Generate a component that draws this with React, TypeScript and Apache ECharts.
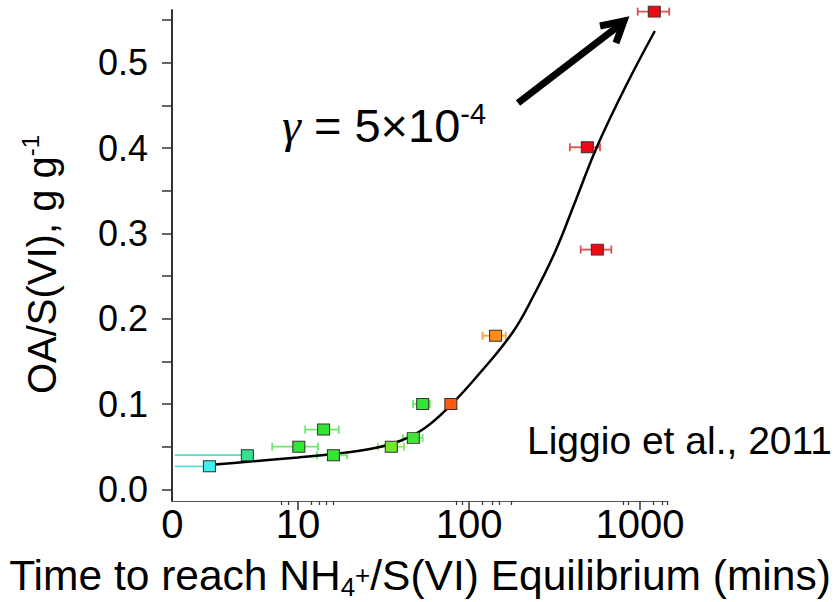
import React, { useEffect, useRef } from "react";
import * as echarts from "echarts";

// ---- data ----
const timeValues = [3.03, 5.05, 10.1, 14.1, 16.1, 35.1, 47.2, 53.6, 78.3, 143, 492, 563, 1213];
const ratioValues = [0.027, 0.040, 0.050, 0.070, 0.040, 0.050, 0.060, 0.100, 0.100, 0.180, 0.401, 0.281, 0.560];
const errLow = [1.9, 1.9, 7.05, 11.0, 12.9, 29.3, 41.0, 47.0, null, 120, 389, 450, 970];
const errHigh = [3.03, 5.05, 13.1, 17.3, 19.3, 41.7, 53.5, 59.0, null, 164, 584, 680, 1483];
const errCapped = [false, false, true, true, true, true, true, true, false, true, true, true, true];

const curveTime = [3.01, 5.23, 9.98, 16.0, 26.3, 39.4, 55.2, 78.3, 115.8, 180.6, 236.4, 322.3, 421.8, 559.7, 827, 1222];
const curveRatio = [0.0285, 0.0326, 0.0373, 0.0414, 0.0472, 0.0566, 0.0719, 0.0988, 0.1363, 0.1844, 0.2254, 0.2805, 0.3392, 0.4013, 0.4728, 0.5373];

const xMin = 1.83;
const xMax = 1459;
const xLabelValues = [1.84, 10, 100, 1000];
const xMajorTicks = [10, 100, 1000];
const xMinorTicks = [8, 8.75, 12, 13.3, 14.6, 16, 84, 91, 120, 136, 150, 177, 800, 850, 1190, 1345, 1440];

const yMin = -0.0137;
const yMax = 0.5619;
const yLabelValues = [0, 0.1, 0.2, 0.3, 0.4, 0.5];
const yTickValues = [0, 0.05, 0.1, 0.15, 0.2, 0.25, 0.3, 0.35, 0.4, 0.45, 0.5, 0.55];

const pointColors = ["#3ef0f0", "#33e08f", "#33e633", "#33e633", "#33e633", "#70ea2a", "#40e63a", "#33e633", "#ff5a14", "#ff8c14", "#ee0a14", "#ee0a14", "#ee0a14"];
const errColors = ["#55e2d6", "#55e2c0", "#70e870", "#70e870", "#70e870", "#90e860", "#70e870", "#70e870", "#000000", "#ffa040", "#e05050", "#e05050", "#e05050"];

const SANS = "'Liberation Sans', Arial, sans-serif";

export default function App() {
  const ref = useRef<HTMLDivElement>(null);
  useEffect(() => {
    document.body.style.margin = "0";
    const chart = echarts.init(ref.current!, undefined, { renderer: "svg" });

    const scatterData = timeValues.map((t, i) => ({
      value: [t, ratioValues[i]],
      itemStyle: { color: pointColors[i] },
    }));
    const errData = timeValues
      .map((t, i) => [errLow[i], errHigh[i], ratioValues[i], i])
      .filter((d) => d[0] != null);
    const curveData = curveTime.map((t, i) => [t, curveRatio[i]]);

    const option: any = {
      animation: false,
      backgroundColor: "#ffffff",
      grid: { left: 172, right: 171, top: 10, bottom: 101, containLabel: false, outerBoundsMode: "none" },
      xAxis: [
        {
          type: "log",
          min: xMin,
          max: xMax,
          position: "bottom",
          name: "Time to reach NH{sub|4}{sup|+}/S(VI) Equilibrium (mins)",
          nameLocation: "middle",
          nameGap: 40,
          nameTextStyle: {
            fontFamily: SANS,
            fontSize: 42.5,
            color: "#000",
            lineHeight: 54,
            rich: {
              sub: { fontFamily: SANS, fontSize: 26, color: "#000", verticalAlign: "bottom", lineHeight: 54, padding: [0, 0, 3, 0] },
              sup: { fontFamily: SANS, fontSize: 26, color: "#000", verticalAlign: "top", lineHeight: 54, padding: [13, 0, 0, 0] },
            },
          },
          axisLine: { show: true, onZero: false, lineStyle: { color: "#555", width: 1 } },
          axisTick: { show: true, customValues: xMajorTicks, length: 9, lineStyle: { color: "#333", width: 1.5 } },
          axisLabel: {
            customValues: xLabelValues,
            margin: 3,
            fontFamily: "'Liberation Sans Narrow', 'Liberation Sans', Arial, sans-serif",
            fontSize: 40,
            color: "#000",
            formatter: (v: number) => (v < 5 ? "0" : String(Math.round(v))),
          },
          splitLine: { show: false },
          minorSplitLine: { show: false },
        },
        {
          type: "log",
          min: xMin,
          max: xMax,
          position: "bottom",
          offset: 0,
          axisLine: { show: false, onZero: false },
          axisTick: { show: true, customValues: xMinorTicks, length: 4, lineStyle: { color: "#333", width: 1.2 } },
          axisLabel: { show: false },
          splitLine: { show: false },
        },
      ],
      yAxis: {
        type: "value",
        min: yMin,
        max: yMax,
        name: "OA/S(VI), g g{sup|-1}",
        nameLocation: "middle",
        nameRotate: 90,
        nameGap: 106,
        nameTextStyle: {
          fontFamily: SANS,
          fontSize: 40,
          color: "#000",
          lineHeight: 48,
          padding: [0, 18, 0, 0],
          rich: {
            sup: { fontFamily: SANS, fontSize: 24, color: "#000", verticalAlign: "top", lineHeight: 48 },
          },
        },
        axisLine: { show: true, onZero: false, lineStyle: { color: "#333", width: 2 } },
        axisTick: { show: true, customValues: yTickValues, length: 10, lineStyle: { color: "#333", width: 1.5 } },
        axisLabel: {
          customValues: yLabelValues,
          margin: 24,
          fontFamily: SANS,
          fontSize: 36,
          color: "#000",
          formatter: (v: number) => v.toFixed(1),
        },
        splitLine: { show: false },
      },
      series: [
        {
          type: "custom",
          xAxisIndex: 0,
          yAxisIndex: 0,
          clip: false,
          data: errData,
          encode: { x: [0, 1], y: 2 },
          renderItem: (params: any, api: any) => {
            const idx = api.value(3);
            const lo = api.coord([api.value(0), api.value(2)]);
            const hi = api.coord([api.value(1), api.value(2)]);
            const color = errColors[idx];
            const style = { stroke: color, lineWidth: 1.8 };
            const children: any[] = [
              { type: "line", shape: { x1: lo[0], y1: lo[1], x2: hi[0], y2: hi[1] }, style },
            ];
            if (errCapped[idx]) {
              children.push({ type: "line", shape: { x1: lo[0], y1: lo[1] - 4, x2: lo[0], y2: lo[1] + 4 }, style });
              children.push({ type: "line", shape: { x1: hi[0], y1: hi[1] - 4, x2: hi[0], y2: hi[1] + 4 }, style });
            }
            return { type: "group", children };
          },
          z: 2,
        },
        {
          type: "line",
          xAxisIndex: 0,
          data: curveData,
          smooth: 0.4,
          symbol: "none",
          clip: false,
          lineStyle: { color: "#000", width: 2.5 },
          z: 3,
        },
        {
          type: "scatter",
          xAxisIndex: 0,
          data: scatterData,
          symbol: "rect",
          symbolSize: [12, 11],
          clip: false,
          itemStyle: { borderColor: "#333", borderWidth: 1, opacity: 1 },
          z: 4,
        },
      ],
      graphic: [
        {
          type: "line",
          shape: { x1: 518, y1: 103, x2: 621, y2: 24 },
          style: { stroke: "#000", lineWidth: 7 },
        },
        {
          type: "polyline",
          shape: { points: [[600, 26], [624, 21], [616, 43]] },
          style: { stroke: "#000", lineWidth: 7, fill: null, lineJoin: "miter" },
        },
        {
          type: "text",
          x: 282,
          y: 99,
          style: {
            text: "{g|γ}{t| = 5×10}{s|-4}",
            rich: {
              g: { fontFamily: "'Liberation Serif', 'Times New Roman', serif", fontStyle: "italic", fontSize: 48, fill: "#000", lineHeight: 52 },
              t: { fontFamily: SANS, fontSize: 47, fill: "#000", lineHeight: 52 },
              s: { fontFamily: SANS, fontSize: 29, fill: "#000", verticalAlign: "top", lineHeight: 52 },
            },
          },
        },
        {
          type: "text",
          x: 527,
          y: 440,
          style: {
            text: "Liggio et al., 2011",
            fontFamily: SANS,
            fontSize: 39,
            fill: "#000",
            verticalAlign: "middle",
          },
        },
      ],
    };
    chart.setOption(option);
    return () => chart.dispose();
  }, []);
  return (
    <div
      ref={ref}
      style={{ position: "fixed", left: 0, top: 0, width: 839, height: 602, background: "#fff" }}
    />
  );
}
